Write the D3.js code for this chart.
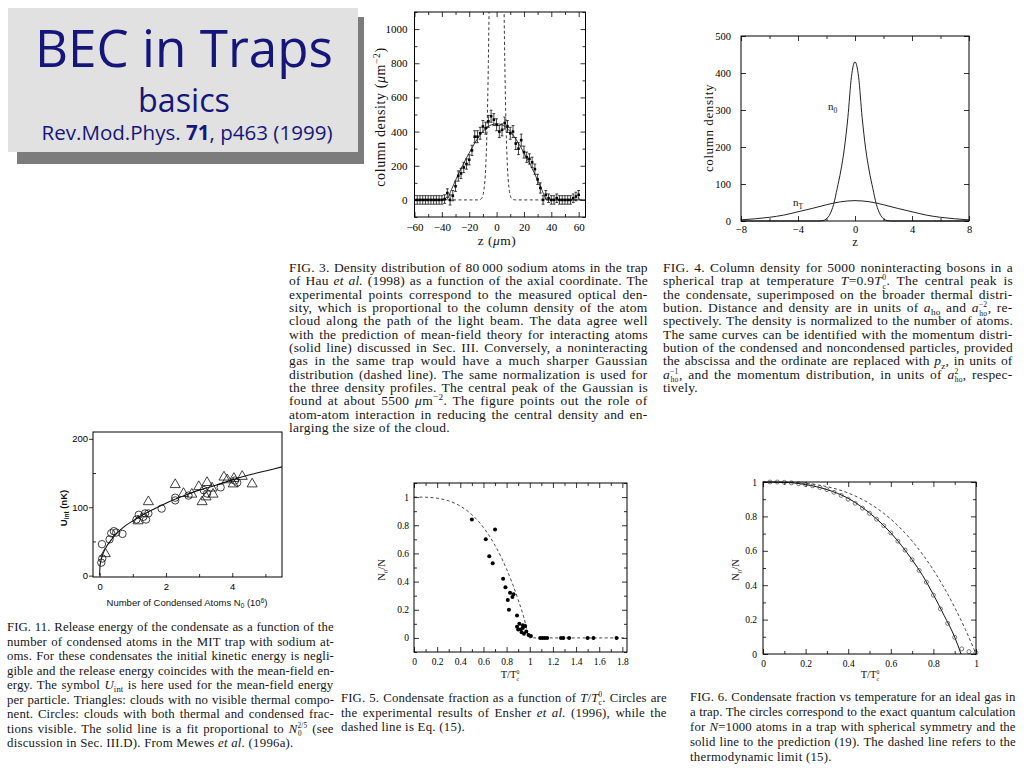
<!DOCTYPE html>
<html><head><meta charset="utf-8">
<script src="https://cdn.jsdelivr.net/npm/d3@7"></script>
<style>body{margin:0;background:#fff}svg{display:block}</style>
</head><body>
<script>
// ================= DATA =================
// Title
const titleMain = "BEC in Traps";
const titleSub = "basics";
const titleRefParts = ["Rev.Mod.Phys. ", "71", ", p463 (1999)"];

// FIG 3 : column density vs z (μm)
const fig3Z = [-60,-58,-56,-54,-52,-50,-48,-46,-44,-42,-40,-38,-36,-34,-32,-30,-28,-26,-24,-22,-20,-18,-16,-14,-12,-10,-8,-6,-4,-2,0,2,4,6,8,10,12,14,16,18,20,22,24,26,28,30,32,34,36,38,40,42,44,46,48,50,52,54,56,58,60];
const fig3V = [0,0,0,0,0,0,0,0,0,0,0,5,40,0,25,80,140,155,190,210,235,290,370,370,390,430,420,460,490,470,440,400,410,450,430,390,400,330,300,350,280,250,240,220,180,120,70,0,30,10,0,0,10,0,0,0,0,0,10,20,30];
const fig3Err = [25,25,25,25,25,25,25,25,25,25,25,25,25,30,30,30,30,30,30,30,30,30,35,35,35,35,35,35,35,35,35,35,35,35,35,35,35,35,35,35,35,30,30,30,30,30,30,25,25,25,25,25,25,25,25,25,25,25,25,25,25];
const fig3LineZ = [-60,-37,-33,-30,-25,-20,-15,-10,-5,0,5,10,15,20,25,30,33,37,65];
const fig3LineV = [0,0,60,115,200,275,345,400,435,445,435,400,345,275,200,115,60,0,0];
const fig3GaussZ = [-60,-16,-14,-13,-12,-11,-10,-9,-8,-7,-6,-5,-4,-3,-2,-1,0,1,2,3,4,5,6,7,8,9,10,11,12,13,14,16,65];
const fig3GaussV = [0,0,0,1,2,8,26,74,182,407,810,1460,2340,3400,4480,5230,5500,5230,4480,3400,2340,1460,810,407,182,74,26,8,2,1,0,0,0];
const fig3YTicks = [0,200,400,600,800,1000];
const fig3XTicks = [-60,-40,-20,0,20,40,60];

// FIG 4 : column density, noninteracting bosons
const fig4TZ = [-8,-7,-6,-5,-4,-3,-2,-1,0,1,2,3,4,5,6,7,8];
const fig4TV = [3,6,10,16,25,34,44,52,55,52,44,34,25,16,10,6,3];
const fig4CZ = [-8,-2.5,-2.25,-2,-1.75,-1.5,-1.25,-1,-0.75,-0.5,-0.25,0,0.25,0.5,0.75,1,1.25,1.5,1.75,2,2.25,2.5,8];
const fig4CV = [0,0,1,6,19,45,88,135,195,280,390,430,390,280,195,135,88,45,19,6,1,0,0];
const fig4YTicks = [0,100,200,300,400,500];
const fig4XTicks = [-8,-4,0,4,8];

// FIG 11 : release energy vs N0
const fig11CircN = [0.05,0.08,0.07,0.30,0.35,0.43,0.50,0.69,1.11,1.18,1.32,1.40,1.37,1.47,1.87,2.28,2.28,2.68,3.14,3.24,3.65,4.08,4.15];
const fig11CircU = [19,25,46,53,62,65,63,61,82,89,86,82,91,91,98,114,110,117,125,120,129,139,136];
const fig11TriN = [0.17,1.16,1.47,2.28,2.53,2.78,2.99,3.09,3.21,3.24,3.39,3.42,3.75,3.85,4.03,4.05,4.30,4.60];
const fig11TriU = [32,80,108,133,120,119,130,108,115,136,128,119,144,140,134,142,145,134];
const fig11FitN = [0,0.01,0.03,0.06,0.1,0.2,0.3,0.5,0.75,1,1.5,2,2.5,3,3.5,4,4.5,5,5.5];
const fig11FitU = [0,13,20,26,32,42,49,61,72,80,94,106,116,125,132,140,147,153,159];
const fig11YTicks = [0,100,200];
const fig11XTicks = [0,2,4];

// FIG 5 : condensate fraction, experiment
const fig5T = [0.50,0.62,0.70,0.65,0.68,0.77,0.79,0.83,0.85,0.86,0.81,0.82,0.89,0.89,0.91,0.92,0.93,0.94,0.96,0.97,0.95,0.99,1.01,0.90,0.94,1.09,1.11,1.13,1.15,1.27,1.29,1.34,1.50,1.55,1.75];
const fig5V = [0.84,0.70,0.77,0.58,0.53,0.42,0.36,0.32,0.29,0.31,0.27,0.20,0.16,0.08,0.10,0.06,0.04,0.07,0.085,0.045,0.03,0.02,0.014,0.06,0.09,0,0,0,0,0,0,0,0,0,0];
const fig5DashT = [0,0.1,0.2,0.3,0.4,0.5,0.6,0.7,0.8,0.85,0.9,0.95,1.0,1.84];
const fig5DashV = [1,0.999,0.992,0.973,0.936,0.875,0.784,0.657,0.488,0.386,0.271,0.143,0,0];
const fig5YTicks = [0,0.2,0.4,0.6,0.8,1];
const fig5XTicks = [0,0.2,0.4,0.6,0.8,1,1.2,1.4,1.6,1.8];

// FIG 6 : condensate fraction, ideal gas in trap
const fig6CircT = [0.033,0.067,0.1,0.133,0.167,0.2,0.233,0.267,0.3,0.333,0.367,0.4,0.433,0.467,0.5,0.533,0.567,0.6,0.633,0.667,0.7,0.733,0.767,0.8,0.833,0.867,0.9,0.933,0.967,1.0];
const fig6CircV = [1.0,1.0,0.998,0.995,0.99,0.985,0.978,0.968,0.956,0.94,0.922,0.9,0.876,0.848,0.818,0.784,0.746,0.704,0.656,0.604,0.548,0.486,0.418,0.342,0.262,0.178,0.097,0.03,0.014,0.007];
const fig6SolidT = [0,0.1,0.2,0.3,0.4,0.5,0.6,0.7,0.75,0.8,0.85,0.9,0.93];
const fig6SolidV = [1,0.998,0.985,0.956,0.905,0.82,0.704,0.548,0.455,0.345,0.225,0.098,0];
const fig6DashT = [0,0.1,0.2,0.3,0.4,0.5,0.6,0.7,0.8,0.85,0.9,0.95,1.0];
const fig6DashV = [1,0.999,0.992,0.973,0.936,0.875,0.784,0.657,0.488,0.386,0.271,0.143,0];
const fig6YTicks = [0,0.2,0.4,0.6,0.8,1];
const fig6XTicks = [0,0.2,0.4,0.6,0.8,1];

// Captions (*italic*, _{sub}, ^{sup}, ^_{sup|sub})
const cap3 = [
 "FIG. 3. Density distribution of 80\u2009000 sodium atoms in the trap",
 "of Hau *et al.* (1998) as a function of the axial coordinate. The",
 "experimental points correspond to the measured optical den-",
 "sity, which is proportional to the column density of the atom",
 "cloud along the path of the light beam. The data agree well",
 "with the prediction of mean-field theory for interacting atoms",
 "(solid line) discussed in Sec. III. Conversely, a noninteracting",
 "gas in the same trap would have a much sharper Gaussian",
 "distribution (dashed line). The same normalization is used for",
 "the three density profiles. The central peak of the Gaussian is",
 "found at about 5500 *μ*m^{−2}. The figure points out the role of",
 "atom-atom interaction in reducing the central density and en-",
 "larging the size of the cloud."];
const cap4 = [
 "FIG. 4. Column density for 5000 noninteracting bosons in a",
 "spherical trap at temperature *T*=0.9*T*^_{0|c}. The central peak is",
 "the condensate, superimposed on the broader thermal distri-",
 "bution. Distance and density are in units of *a*_{ho} and *a*^_{−2|ho}, re-",
 "spectively. The density is normalized to the number of atoms.",
 "The same curves can be identified with the momentum distri-",
 "bution of the condensed and noncondensed particles, provided",
 "the abscissa and the ordinate are replaced with *p*_{z}, in units of",
 "*a*^_{−1|ho}, and the momentum distribution, in units of *a*^_{2|ho}, respec-",
 "tively."];
const cap11 = [
 "FIG. 11. Release energy of the condensate as a function of the",
 "number of condensed atoms in the MIT trap with sodium at-",
 "oms. For these condensates the initial kinetic energy is negli-",
 "gible and the release energy coincides with the mean-field en-",
 "ergy. The symbol *U*_{int} is here used for the mean-field energy",
 "per particle. Triangles: clouds with no visible thermal compo-",
 "nent. Circles: clouds with both thermal and condensed frac-",
 "tions visible. The solid line is a fit proportional to *N*^_{2/5|0} (see",
 "discussion in Sec. III.D). From Mewes *et al.* (1996a)."];
const cap5 = [
 "FIG. 5. Condensate fraction as a function of *T*/*T*^_{0|c}. Circles are",
 "the experimental results of Ensher *et al.* (1996), while the",
 "dashed line is Eq. (15)."];
const cap6 = [
 "FIG. 6. Condensate fraction vs temperature for an ideal gas in",
 "a trap. The circles correspond to the exact quantum calculation",
 "for *N*=1000 atoms in a trap with spherical symmetry and the",
 "solid line to the prediction (19). The dashed line refers to the",
 "thermodynamic limit (15)."];

// ================= DRAWING =================
const SERIF = "'Liberation Serif','Times New Roman',serif";
const SANS = "'Liberation Sans',Arial,sans-serif";
const svg = d3.select("body").append("svg").attr("width",1024).attr("height",768);
svg.append("rect").attr("width",1024).attr("height",768).attr("fill","#fff");

function rich(t, s, fs) {
  const parts = s.split(/(\*[^*]+\*|\^_\{[^}]*\}|_\{[^}]*\}|\^\{[^}]*\})/).filter(p => p !== "");
  let base = 0, pendDx = 0;
  parts.forEach(p => {
    let ts;
    if (p.startsWith("^_{")) {
      const [a, b] = p.slice(3, -1).split("|");
      const sup = t.append("tspan").attr("font-size", fs*0.56).attr("dy", -0.38*fs - base).text(a);
      if (pendDx) sup.attr("dx", pendDx);
      const w = sup.node().getComputedTextLength();
      const sub = t.append("tspan").attr("font-size", fs*0.56).attr("dx", -w).attr("dy", 0.38*fs + 0.27*fs).text(b);
      const ws = sub.node().getComputedTextLength();
      base = 0.27*fs; pendDx = Math.max(0, w - ws);
      return;
    } else if (p.startsWith("_{")) {
      ts = t.append("tspan").attr("font-size", fs*0.68).attr("dy", 0.25*fs - base).text(p.slice(2, -1));
      base = 0.25*fs;
    } else if (p.startsWith("^{")) {
      ts = t.append("tspan").attr("font-size", fs*0.68).attr("dy", -0.36*fs - base).text(p.slice(2, -1));
      base = -0.36*fs;
    } else if (p.startsWith("*")) {
      ts = t.append("tspan").attr("font-style", "italic").attr("dy", -base).text(p.slice(1, -1));
      base = 0;
    } else {
      ts = t.append("tspan").attr("dy", -base).text(p);
      base = 0;
    }
    if (pendDx) { ts.attr("dx", pendDx); pendDx = 0; }
  });
}

function caption(lines, x0, x1, y0, lh, fs) {
  lines.forEach((ln, i) => {
    const t = svg.append("text").attr("x", x0).attr("y", y0 + i*lh)
      .attr("font-family", SERIF).attr("font-size", fs).attr("fill", "#161616");
    rich(t, ln, fs);
    const plain = ln.replace(/[\*\{\}\^_|]/g, "");
    const nCh = plain.length;
    const w = t.node().getBBox().width;
    if (i < lines.length - 1) {
      const n = (ln.match(/ /g) || []).length;
      const d = x1 - x0 - w;
      const ls = d > 0 ? 0.45 * d / nCh : 0;
      const ws = n > 0 ? (d - ls * nCh) / n : 0;
      t.style("letter-spacing", ls + "px").style("word-spacing", ws + "px");
    } else {
      t.style("letter-spacing", "0.25px");
    }
  });
}

function axesBox(g, x, y, o) {
  const [x0, x1] = x.range(), [yb, yt] = y.range();
  const s = o.inward ? -1 : 1;
  const sm = (o.minorInward === undefined ? o.inward : o.minorInward) ? -1 : 1;
  const sxm = (o.xInward === undefined ? o.inward : o.xInward) ? -1 : 1;
  function ax(fn, scale, vals, size, fmt, pad, tr) {
    const a = fn(scale).tickValues(vals).tickSize(size).tickPadding(pad).tickFormat(fmt);
    const gg = g.append("g").attr("transform", tr).call(a);
    gg.select(".domain").remove();
    gg.selectAll("text").attr("font-family", o.font).attr("font-size", o.fs).attr("fill", "#000");
    gg.selectAll("line").attr("stroke", "#000").attr("stroke-width", 0.8);
  }
  const none = () => "";
  ax(d3.axisBottom, x, o.xMajor, sxm*o.maj, o.xFmt, o.xPad, `translate(0,${yb})`);
  if (o.xMinor) ax(d3.axisBottom, x, o.xMinor, sm*o.min, none, 0, `translate(0,${yb})`);
  ax(d3.axisLeft, y, o.yMajor, s*o.maj, o.yFmt, o.yPad, `translate(${x0},0)`);
  if (o.yMinor) ax(d3.axisLeft, y, o.yMinor, sm*o.min, none, 0, `translate(${x0},0)`);
  if (o.mirror) {
    ax(d3.axisTop, x, o.xMajor, s*o.maj, none, 0, `translate(0,${yt})`);
    if (o.xMinor) ax(d3.axisTop, x, o.xMinor, s*o.min, none, 0, `translate(0,${yt})`);
    ax(d3.axisRight, y, o.yMajor, s*o.maj, none, 0, `translate(${x1},0)`);
    if (o.yMinor) ax(d3.axisRight, y, o.yMinor, s*o.min, none, 0, `translate(${x1},0)`);
  }
  g.append("rect").attr("x", x0).attr("y", yt).attr("width", x1 - x0).attr("height", yb - yt)
    .attr("fill", "none").attr("stroke", "#000").attr("stroke-width", 1);
}

function clip(id, x, y) {
  const [x0, x1] = x.range(), [yb, yt] = y.range();
  svg.append("clipPath").attr("id", id).append("rect").attr("x", x0).attr("y", yt).attr("width", x1 - x0).attr("height", yb - yt);
}
const fmtNum = d => String(d);
const fmtDec = d => d === 0 ? "0" : d === 1 ? "1" : d3.format(".1f")(d);

// ---------- Title box ----------
{
  const g = svg.append("g");
  g.append("rect").attr("x", 17).attr("y", 17).attr("width", 347).attr("height", 147).attr("fill", "#7c7c7c");
  g.append("rect").attr("x", 8).attr("y", 8).attr("width", 350).attr("height", 144).attr("fill", "#e1e1e1");
  const TF = "'Open Sans','DejaVu Sans',sans-serif", col = "#16167a";
  function fit(t, target, fs) { const w = t.node().getBBox().width; t.attr("font-size", fs * target / w); }
  const t1 = g.append("text").attr("x", 184).attr("y", 67).attr("text-anchor", "middle").attr("font-family", TF).attr("font-size", 46).attr("fill", col).text(titleMain);
  fit(t1, 298, 46);
  const t2 = g.append("text").attr("x", 184).attr("y", 112).attr("text-anchor", "middle").attr("font-family", TF).attr("font-size", 32).attr("fill", col).text(titleSub);
  fit(t2, 92, 32);
  const t3 = g.append("text").attr("x", 187).attr("y", 140).attr("text-anchor", "middle").attr("font-family", TF).attr("font-size", 21).attr("fill", col);
  t3.append("tspan").text(titleRefParts[0]);
  t3.append("tspan").attr("font-weight", "bold").text(titleRefParts[1]);
  t3.append("tspan").text(titleRefParts[2]);
  fit(t3, 291, 21);
}

// ---------- FIG 3 ----------
{
  const x = d3.scaleLinear().domain([-60, 65]).range([414.5, 585.5]);
  const y = d3.scaleLinear().domain([-100, 1100]).range([217, 12]);
  const g = svg.append("g");
  clip("c3", x, y);
  const pg = g.append("g").attr("clip-path", "url(#c3)");
  const line = d3.line().x(d => x(d[0])).y(d => y(d[1])).curve(d3.curveMonotoneX);
  pg.append("path").attr("d", line(fig3GaussZ.map((z, i) => [z, fig3GaussV[i]])))
    .attr("fill", "none").attr("stroke", "#222").attr("stroke-width", 0.9).attr("stroke-dasharray", "3,2.5");
  pg.append("path").attr("d", line(fig3LineZ.map((z, i) => [z, fig3LineV[i]])))
    .attr("fill", "none").attr("stroke", "#222").attr("stroke-width", 0.9);
  const idx = d3.range(fig3Z.length);
  const eg = pg.append("g").attr("stroke", "#111").attr("stroke-width", 0.8);
  eg.selectAll("line.e").data(idx).join("line").attr("x1", i => x(fig3Z[i])).attr("x2", i => x(fig3Z[i]))
    .attr("y1", i => y(fig3V[i] - fig3Err[i])).attr("y2", i => y(fig3V[i] + fig3Err[i]));
  eg.selectAll("line.t").data(idx).join("line").attr("x1", i => x(fig3Z[i]) - 1.4).attr("x2", i => x(fig3Z[i]) + 1.4)
    .attr("y1", i => y(fig3V[i] + fig3Err[i])).attr("y2", i => y(fig3V[i] + fig3Err[i]));
  eg.selectAll("line.b").data(idx).join("line").attr("x1", i => x(fig3Z[i]) - 1.4).attr("x2", i => x(fig3Z[i]) + 1.4)
    .attr("y1", i => y(fig3V[i] - fig3Err[i])).attr("y2", i => y(fig3V[i] - fig3Err[i]));
  pg.selectAll("rect.p").data(idx).join("rect").attr("x", i => x(fig3Z[i]) - 1.3).attr("y", i => y(fig3V[i]) - 1.3)
    .attr("width", 2.6).attr("height", 2.6).attr("fill", "#000");
  axesBox(g, x, y, { inward: true, maj: 5, min: 3, font: SERIF, fs: 11,
    xMajor: fig3XTicks, xMinor: [-50,-30,-10,10,30,50], yMajor: fig3YTicks, yMinor: [-100,100,300,500,700,900,1100],
    xFmt: d => d < 0 ? "\u2212" + Math.abs(d) : String(d), yFmt: fmtNum, xPad: 6, yPad: 7, mirror: true });
  const ty = g.append("text").attr("transform", "translate(385,117) rotate(-90)").attr("text-anchor", "middle")
    .attr("font-family", SERIF).attr("font-size", 14).attr("fill", "#111").style("letter-spacing", "0.6px");
  rich(ty, "column density (*μ*m^{−2})", 14);
  const tx = g.append("text").attr("x", 497).attr("y", 245).attr("text-anchor", "middle")
    .attr("font-family", SERIF).attr("font-size", 13.5).attr("fill", "#111").style("letter-spacing", "0.5px");
  rich(tx, "z (*μ*m)", 13.5);
}

// ---------- FIG 4 ----------
{
  const x = d3.scaleLinear().domain([-8, 8]).range([741, 969]);
  const y = d3.scaleLinear().domain([0, 500]).range([221, 36]);
  const g = svg.append("g");
  const line = d3.line().x(d => x(d[0])).y(d => y(d[1])).curve(d3.curveMonotoneX);
  g.append("path").attr("d", line(fig4TZ.map((z, i) => [z, fig4TV[i]]))).attr("fill", "none").attr("stroke", "#222").attr("stroke-width", 1);
  g.append("path").attr("d", line(fig4CZ.map((z, i) => [z, fig4CV[i]]))).attr("fill", "none").attr("stroke", "#222").attr("stroke-width", 1);
  axesBox(g, x, y, { inward: true, maj: 5, min: 3, font: SERIF, fs: 10.5,
    xMajor: fig4XTicks, xMinor: [-6,-2,2,6], yMajor: fig4YTicks, yMinor: null,
    xFmt: d => d < 0 ? "\u2212" + Math.abs(d) : String(d), yFmt: fmtNum, xPad: 5, yPad: 10, mirror: true });
  g.append("text").attr("transform", "translate(713,128) rotate(-90)").attr("text-anchor", "middle")
    .attr("font-family", SERIF).attr("font-size", 13).attr("fill", "#111").style("letter-spacing", "0.6px").text("column density");
  g.append("text").attr("x", 855).attr("y", 246).attr("text-anchor", "middle")
    .attr("font-family", SERIF).attr("font-size", 12.5).attr("fill", "#111").text("z");
  const l0 = g.append("text").attr("x", 828).attr("y", 110).attr("font-family", SERIF).attr("font-size", 11).attr("fill", "#111");
  rich(l0, "n_{0}", 11);
  const lT = g.append("text").attr("x", 793).attr("y", 206).attr("font-family", SERIF).attr("font-size", 11).attr("fill", "#111");
  rich(lT, "n_{T}", 11);
}

// ---------- FIG 11 ----------
{
  const x = d3.scaleLinear().domain([-0.2, 5.5]).range([93, 282]);
  const y = d3.scaleLinear().domain([-2, 210]).range([577, 432]);
  const g = svg.append("g");
  clip("c11", x, y);
  const pg = g.append("g").attr("clip-path", "url(#c11)");
  pg.append("path").attr("d", d3.line().x(d => x(d[0])).y(d => y(d[1])).curve(d3.curveMonotoneX)(fig11FitN.map((n, i) => [n, fig11FitU[i]])))
    .attr("fill", "none").attr("stroke", "#111").attr("stroke-width", 1.1);
  pg.selectAll("circle").data(d3.range(fig11CircN.length)).join("circle")
    .attr("cx", i => x(fig11CircN[i])).attr("cy", i => y(fig11CircU[i])).attr("r", 3.7)
    .attr("fill", "none").attr("stroke", "#111").attr("stroke-width", 0.8);
  const tri = d3.symbol().type(d3.symbolTriangle).size(44);
  pg.selectAll("path.tri").data(d3.range(fig11TriN.length)).join("path").attr("class", "tri")
    .attr("transform", i => `translate(${x(fig11TriN[i])},${y(fig11TriU[i])})`).attr("d", tri)
    .attr("fill", "none").attr("stroke", "#111").attr("stroke-width", 0.8);
  axesBox(g, x, y, { inward: false, xInward: true, minorInward: true, maj: 4, min: 3, font: SANS, fs: 9.5,
    xMajor: fig11XTicks, xMinor: [1,3,5], yMajor: fig11YTicks, yMinor: [50,150],
    xFmt: fmtNum, yFmt: fmtNum, xPad: 6, yPad: 1, mirror: false });
  const tx = g.append("text").attr("x", 187).attr("y", 606).attr("text-anchor", "middle")
    .attr("font-family", SANS).attr("font-size", 9.5).attr("fill", "#111");
  rich(tx, "Number of Condensed Atoms N_{0} (10^{6})", 9.5);
  const ty = g.append("text").attr("transform", "translate(67,508) rotate(-90)").attr("text-anchor", "middle")
    .attr("font-family", SANS).attr("font-size", 9.5).attr("font-weight", "bold").attr("fill", "#111");
  rich(ty, "U_{int} (nK)", 9.5);
}

// ---------- FIG 5 ----------
{
  const x = d3.scaleLinear().domain([0, 1.84]).range([414, 627]);
  const y = d3.scaleLinear().domain([-0.1, 1.1]).range([652, 483]);
  const g = svg.append("g");
  g.append("path").attr("d", d3.line().x(d => x(d[0])).y(d => y(d[1])).curve(d3.curveMonotoneX)(fig5DashT.map((t, i) => [t, fig5DashV[i]])))
    .attr("fill", "none").attr("stroke", "#333").attr("stroke-width", 0.9).attr("stroke-dasharray", "3,2.5");
  g.selectAll("circle").data(d3.range(fig5T.length)).join("circle")
    .attr("cx", i => x(fig5T[i])).attr("cy", i => y(fig5V[i])).attr("r", 2).attr("fill", "#000");
  axesBox(g, x, y, { inward: true, maj: 5, min: 3, font: SERIF, fs: 9.5,
    xMajor: fig5XTicks, xMinor: [0.1,0.3,0.5,0.7,0.9,1.1,1.3,1.5,1.7], yMajor: fig5YTicks, yMinor: [-0.1,0.1,0.3,0.5,0.7,0.9,1.1],
    xFmt: fmtDec, yFmt: fmtDec, xPad: 6, yPad: 5, mirror: true });
  const tx = g.append("text").attr("x", 510).attr("y", 678).attr("text-anchor", "middle")
    .attr("font-family", SERIF).attr("font-size", 10.5).attr("fill", "#111");
  rich(tx, "T/T^_{0|c}", 10.5);
  const ty = g.append("text").attr("transform", "translate(385,570) rotate(-90)").attr("text-anchor", "middle")
    .attr("font-family", SERIF).attr("font-size", 10.5).attr("fill", "#111");
  rich(ty, "N_{0}/N", 10.5);
}

// ---------- FIG 6 ----------
{
  const x = d3.scaleLinear().domain([0, 1]).range([763, 976]);
  const y = d3.scaleLinear().domain([0, 1]).range([654, 482]);
  const g = svg.append("g");
  const line = d3.line().x(d => x(d[0])).y(d => y(d[1])).curve(d3.curveMonotoneX);
  g.append("path").attr("d", line(fig6DashT.map((t, i) => [t, fig6DashV[i]])))
    .attr("fill", "none").attr("stroke", "#333").attr("stroke-width", 0.9).attr("stroke-dasharray", "3,2.5");
  g.append("path").attr("d", line(fig6SolidT.map((t, i) => [t, fig6SolidV[i]])))
    .attr("fill", "none").attr("stroke", "#111").attr("stroke-width", 1);
  g.selectAll("circle").data(d3.range(fig6CircT.length)).join("circle")
    .attr("cx", i => x(fig6CircT[i])).attr("cy", i => y(fig6CircV[i])).attr("r", 2)
    .attr("fill", "none").attr("stroke", "#444").attr("stroke-width", 0.7);
  axesBox(g, x, y, { inward: true, maj: 5, min: 3, font: SERIF, fs: 9.5,
    xMajor: fig6XTicks, xMinor: [0.1,0.3,0.5,0.7,0.9], yMajor: fig6YTicks, yMinor: [0.1,0.3,0.5,0.7,0.9],
    xFmt: fmtDec, yFmt: fmtDec, xPad: 6, yPad: 6, mirror: true });
  const tx = g.append("text").attr("x", 870).attr("y", 678).attr("text-anchor", "middle")
    .attr("font-family", SERIF).attr("font-size", 10.5).attr("fill", "#111");
  rich(tx, "T/T^_{0|c}", 10.5);
  const ty = g.append("text").attr("transform", "translate(739,570) rotate(-90)").attr("text-anchor", "middle")
    .attr("font-family", SERIF).attr("font-size", 10.5).attr("fill", "#111");
  rich(ty, "N_{0}/N", 10.5);
}

// ---------- Captions ----------
caption(cap3, 289, 648, 272, 13.33, 13.5);
caption(cap4, 663, 1013, 272, 13.33, 13.5);
caption(cap11, 7, 334, 631, 14.5, 12.8);
caption(cap5, 341, 667, 702, 14.5, 12.8);
caption(cap6, 690, 1016, 701, 15, 12.8);
</script>
</body></html>
